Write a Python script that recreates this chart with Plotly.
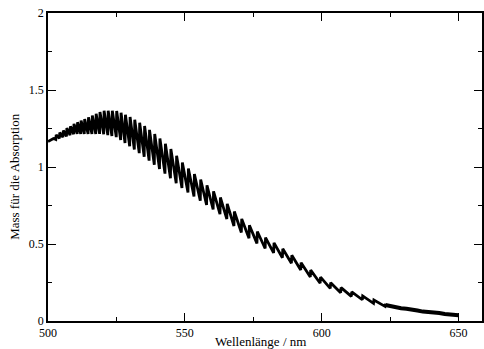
import plotly.graph_objects as go

# Band heads (nm) with peak and trough absorbance
peak_nm = [503.0, 504.3, 505.6, 506.9, 508.2, 509.5, 510.8, 512.1, 513.4, 514.8,
           516.2, 517.6, 519.0, 520.5, 522.0, 523.5, 525.1, 526.7, 528.3, 530.0,
           531.7, 533.5, 535.3, 537.1, 539.0, 540.9, 542.9, 544.9, 547.0, 549.1,
           551.3, 553.5, 555.8, 558.1, 560.5, 563.0, 565.5, 568.1, 570.8, 573.6,
           576.5, 579.5, 582.6, 585.8, 589.1, 592.5, 596.0, 599.6, 603.3, 607.1,
           611.0, 615.0, 619.1, 623.3]
peak_abs = [1.209, 1.223, 1.237, 1.252, 1.265, 1.280, 1.291, 1.302, 1.312, 1.323,
            1.335, 1.346, 1.357, 1.365, 1.365, 1.365, 1.364, 1.352, 1.339, 1.325,
            1.307, 1.287, 1.266, 1.241, 1.214, 1.185, 1.151, 1.117, 1.073, 1.029,
            0.990, 0.954, 0.918, 0.881, 0.842, 0.802, 0.761, 0.711, 0.663, 0.622,
            0.581, 0.542, 0.507, 0.469, 0.427, 0.379, 0.330, 0.285, 0.249, 0.217,
            0.189, 0.163, 0.136, 0.112]
trough_abs = [1.179, 1.186, 1.193, 1.199, 1.206, 1.213, 1.215, 1.215, 1.215, 1.215,
              1.215, 1.215, 1.215, 1.213, 1.207, 1.201, 1.194, 1.175, 1.156, 1.135,
              1.113, 1.090, 1.066, 1.041, 1.014, 0.987, 0.957, 0.927, 0.895, 0.864,
              0.835, 0.808, 0.781, 0.753, 0.724, 0.694, 0.662, 0.617, 0.575, 0.538,
              0.504, 0.471, 0.442, 0.411, 0.375, 0.331, 0.286, 0.245, 0.212, 0.184,
              0.160, 0.138, 0.115, 0.095]

# Smooth start and tail of the spectrum
start_nm = [500.0, 501.0, 502.0]
start_abs = [1.165, 1.175, 1.185]
tail_nm = [623.3, 625.0, 627.0, 629.0, 631.0, 633.0, 635.0, 637.0, 639.0,
           641.0, 643.0, 645.0, 647.0, 649.0, 650.0]
tail_abs = [0.104, 0.096, 0.092, 0.083, 0.080, 0.071, 0.068, 0.061, 0.060,
            0.053, 0.052, 0.046, 0.044, 0.039, 0.038]

x_ticks = [500, 550, 600, 650]
y_ticks = [0, 0.5, 1, 1.5, 2]
y_tick_text = ["0", "0.5", "1", "1.5", "2"]

xs = list(start_nm)
ys = list(start_abs)
for pk, pv, tv in zip(peak_nm, peak_abs, trough_abs):
    xs += [pk - 0.15, pk]
    ys += [tv, pv]

fig = go.Figure()
fig.add_trace(go.Scatter(x=xs, y=ys, mode="lines",
                         line=dict(color="black", width=2.8),
                         hoverinfo="skip", showlegend=False))
fig.add_trace(go.Scatter(x=tail_nm, y=tail_abs, mode="lines",
                         line=dict(color="black", width=4),
                         hoverinfo="skip", showlegend=False))

font = dict(family="Liberation Serif, Times New Roman, serif", color="black")

axis_common = dict(showline=True, linecolor="black", linewidth=1.5, mirror="ticks",
                   ticks="inside", ticklen=8, tickwidth=1.2, tickcolor="black",
                   showgrid=False, zeroline=False,
                   tickfont=dict(size=12, **font))

fig.update_xaxes(range=[500, 658.6], tickvals=x_ticks,
                 minor=dict(ticks="inside", ticklen=4, dtick=25, tick0=500,
                            tickcolor="black", tickwidth=1.2, showgrid=False),
                 **axis_common)
fig.update_yaxes(range=[0, 2], tickvals=y_ticks, ticktext=y_tick_text,
                 minor=dict(ticks="inside", ticklen=4, dtick=0.25, tick0=0,
                            tickcolor="black", tickwidth=1.2, showgrid=False),
                 **axis_common)

fig.update_layout(
    width=484, height=349,
    margin=dict(l=48, r=0, t=13, b=28),
    plot_bgcolor="white", paper_bgcolor="white",
    annotations=[
        dict(text="Wellenlänge / nm", xref="paper", yref="paper",
             x=0.49, y=-0.066, xanchor="center", yanchor="middle",
             showarrow=False, font=dict(size=13, **font)),
        dict(text="Mass für die Absorption", xref="paper", yref="paper",
             x=-0.076, y=0.468, xanchor="center", yanchor="middle",
             textangle=-90, showarrow=False, font=dict(size=13, **font)),
    ],
)

fig.write_html("out.html")
